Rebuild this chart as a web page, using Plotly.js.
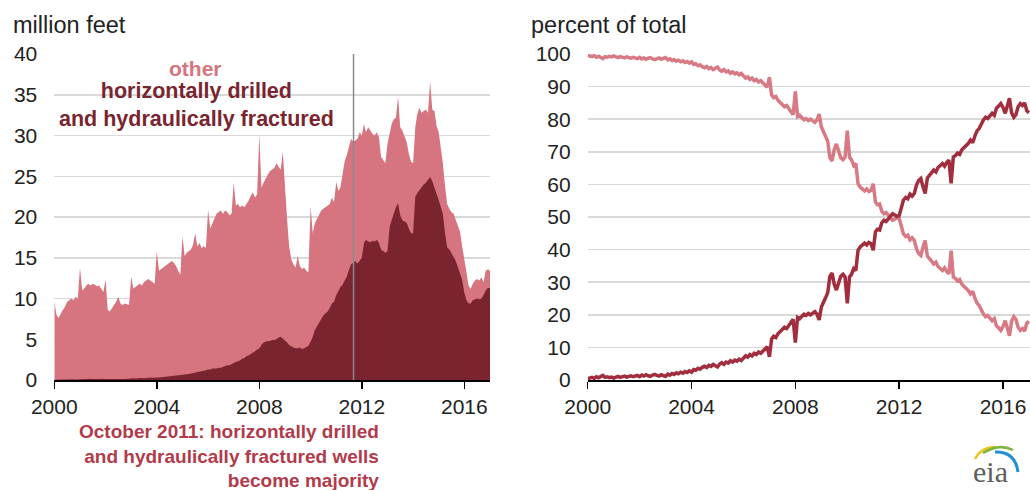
<!DOCTYPE html>
<html>
<head>
<meta charset="utf-8">
<script src="https://cdn.plot.ly/plotly-3.0.1.min.js"></script>
<style>html,body{margin:0;padding:0;background:#fff;}#chart{width:1030px;height:490px;}</style>
</head>
<body>
<div id="chart"></div>
<script>
// Monthly series, January 2000 through January 2017
const startYear = 2000;
const yearTicks = ['2000', '2004', '2008', '2012', '2016'];

// Left panel: total footage drilled (top of pink area), million feet
const totalFeet = [
  9.6, 8.0, 7.6, 8.2, 8.6, 9.0, 9.6, 9.8, 10.0, 9.8, 10.2, 10.0,
  13.8, 11.0, 11.2, 11.6, 11.8, 11.6, 11.8, 11.7, 11.5, 11.6, 11.2, 10.8,
  12.3, 8.6, 8.4, 8.8, 9.2, 9.6, 10.2, 9.4, 9.2, 9.4, 9.3, 9.2,
  12.7, 11.2, 11.4, 11.6, 11.8, 11.6, 12.0, 12.2, 12.4, 12.2, 12.0, 11.8,
  15.8, 13.4, 13.6, 13.8, 14.0, 14.2, 14.4, 14.6, 14.4, 14.0, 13.4, 12.9,
  17.6, 15.2, 15.6, 15.8, 16.0, 16.6, 18.0, 16.4, 16.8, 16.2, 16.4, 16.2,
  20.9, 18.6, 19.2, 20.0, 20.4, 20.6, 20.8, 20.4, 20.8, 20.6, 20.2, 20.4,
  24.2, 21.4, 21.6, 21.2, 21.4, 21.2, 21.6, 22.0, 22.6, 23.0, 22.4, 22.8,
  30.1, 23.6, 24.2, 24.8, 25.2, 25.6, 25.8, 26.0, 26.6, 26.2, 25.8, 28.0,
  23.4, 19.6, 16.4, 14.8, 14.2, 13.8, 15.2, 14.0, 13.6, 13.8, 13.4, 13.2,
  21.3, 18.0, 19.2, 19.8, 20.2, 20.8, 21.0, 21.2, 21.4, 21.6, 22.4, 21.8,
  24.3, 23.2, 23.6, 25.2, 26.8, 27.6, 28.6, 29.6, 29.2, 29.4, 29.6, 30.4,
  30.0, 31.4, 30.4, 31.0, 30.6, 30.2, 30.0, 30.4, 29.8, 27.4, 27.0, 26.6,
  29.0, 30.4, 31.4, 32.0, 32.2, 34.8, 31.0, 30.6, 29.8, 29.2, 27.8, 26.8,
  26.6, 31.0, 32.6, 33.4, 32.8, 33.0, 33.2, 32.8, 36.6, 33.2, 33.0, 31.2,
  30.4, 28.4, 26.6, 23.8, 21.6, 21.0, 20.6, 20.4, 19.6, 18.8, 18.2, 16.4,
  15.0, 13.2, 11.6, 11.2, 11.8, 12.2, 12.4, 12.2, 12.6, 12.0, 13.4, 13.6,
  13.4
];

// Left panel: horizontally drilled and hydraulically fractured footage, million feet
const horizFeet = [
  0.04, 0.05, 0.06, 0.04, 0.09, 0.06, 0.12, 0.14, 0.08, 0.10, 0.07, 0.09,
  0.08, 0.10, 0.12, 0.09, 0.12, 0.14, 0.11, 0.13, 0.15, 0.12, 0.13, 0.15,
  0.12, 0.13, 0.10, 0.14, 0.12, 0.11, 0.15, 0.16, 0.13, 0.11, 0.15, 0.12,
  0.14, 0.20, 0.17, 0.23, 0.20, 0.26, 0.23, 0.29, 0.26, 0.32, 0.28, 0.33,
  0.30, 0.32, 0.35, 0.38, 0.40, 0.42, 0.45, 0.46, 0.50, 0.52, 0.55, 0.55,
  0.60, 0.65, 0.70, 0.75, 0.80, 0.85, 0.95, 0.95, 1.00, 1.05, 1.10, 1.20,
  1.30, 1.30, 1.40, 1.40, 1.40, 1.50, 1.50, 1.60, 1.70, 1.80, 1.80, 1.90,
  2.00, 2.20, 2.30, 2.40, 2.60, 2.70, 2.90, 3.00, 3.20, 3.40, 3.60, 3.70,
  3.90, 4.30, 4.60, 4.70, 4.80, 4.80, 4.90, 4.90, 5.00, 5.20, 5.30, 5.10,
  4.90, 4.60, 4.30, 4.10, 4.00, 3.90, 3.90, 4.00, 3.80, 3.90, 4.10, 4.20,
  4.70, 5.30, 6.10, 6.60, 7.00, 7.60, 7.90, 8.20, 8.40, 8.80, 9.40, 9.60,
  10.4, 10.9, 11.4, 11.7, 12.2, 12.7, 13.5, 14.2, 14.4, 14.6, 14.3, 14.7,
  15.0, 16.8, 17.2, 17.0, 16.9, 17.1, 17.0, 17.2, 16.8, 16.0, 15.8, 15.6,
  15.8, 18.8, 19.6, 20.4, 21.2, 21.7, 20.2, 19.6, 19.4, 19.3, 18.6, 18.0,
  18.0, 22.5, 22.9, 23.3, 23.6, 24.0, 24.2, 24.5, 24.9, 24.4, 23.7, 22.8,
  22.1, 21.2, 20.4, 18.0, 16.3, 16.0, 15.6, 15.1, 14.6, 13.9, 13.0, 12.3,
  10.7, 9.8, 9.4, 9.4, 9.8, 9.9, 10.0, 9.9, 10.0, 10.4, 11.0, 11.3,
  11.3
];

// Right panel: horizontally drilled and hydraulically fractured, percent of total
const horizPct = [
  0.4, 0.6, 0.8, 0.5, 1.0, 0.7, 1.2, 1.4, 0.8, 1.0, 0.7, 0.9,
  0.6, 0.9, 1.1, 0.8, 1.0, 1.2, 0.9, 1.1, 1.3, 1.0, 1.2, 1.4,
  1.0, 1.5, 1.2, 1.6, 1.3, 1.1, 1.5, 1.7, 1.4, 1.2, 1.6, 1.3,
  1.1, 1.8, 1.5, 2.0, 1.7, 2.2, 1.9, 2.4, 2.1, 2.6, 2.3, 2.8,
  2.4, 3.2, 3.0, 3.6, 3.3, 3.9, 4.2, 3.8, 4.5, 4.2, 4.8, 4.4,
  4.0, 4.9, 5.3, 4.8, 5.5, 5.2, 5.9, 5.5, 6.1, 5.8, 6.4, 6.0,
  6.6, 7.4, 7.0, 7.8, 7.4, 8.2, 7.8, 8.6, 8.2, 8.8, 9.4, 10.2,
  7.1, 12.6, 13.4, 13.0, 14.2, 14.8, 15.6, 16.2, 15.8, 16.8, 17.6, 18.6,
  11.5, 19.2, 18.8, 19.6, 20.2, 19.8, 20.4, 20.0, 20.6, 21.0, 20.2, 18.4,
  22.4, 23.6, 25.2, 26.8, 31.8, 32.8, 29.4, 27.6, 30.2, 31.8, 32.4, 31.6,
  23.5, 31.6, 32.4, 34.2, 33.6, 39.8, 40.8, 41.6, 42.0, 41.4, 42.2, 41.8,
  39.8, 45.4, 46.2, 46.0, 48.2, 49.0, 48.6, 49.4, 50.2, 51.0, 50.6, 50.2,
  50.4, 53.0, 55.2, 56.0, 55.6, 57.0, 56.4, 57.2, 59.8, 61.2, 61.8, 59.3,
  57.2, 62.0, 62.8, 63.6, 64.4, 63.8, 65.2, 65.8, 66.4, 65.6, 66.8, 67.4,
  60.3, 68.4, 68.8, 69.6, 69.2, 70.6, 71.2, 71.8, 72.6, 73.6, 72.8, 74.8,
  76.4, 77.2, 78.6, 79.8, 80.6, 80.2, 81.0, 81.8, 81.2, 83.4, 84.0, 84.8,
  83.6, 81.8, 84.0, 86.4, 82.0, 80.6, 81.4, 83.8, 84.8, 84.2, 85.0, 82.6,
  82.0
];

// Right panel: other wells, percent of total
const otherPct = [
  99.6, 99.4, 99.2, 99.5, 99.0, 99.3, 98.8, 98.6, 99.2, 99.0, 99.3, 99.1,
  99.4, 99.1, 98.9, 99.2, 99.0, 98.8, 99.1, 98.9, 98.7, 99.0, 98.8, 98.6,
  99.0, 98.5, 98.8, 98.4, 98.7, 98.9, 98.5, 98.3, 98.6, 98.8, 98.4, 98.7,
  98.9, 98.2, 98.5, 98.0, 98.3, 97.8, 98.1, 97.6, 97.9, 97.4, 97.7, 97.2,
  97.6, 96.8, 97.0, 96.4, 96.7, 96.1, 95.8, 96.2, 95.5, 95.8, 95.2, 95.6,
  96.0, 95.1, 94.7, 95.2, 94.5, 94.8, 94.1, 94.5, 93.9, 94.2, 93.6, 94.0,
  93.4, 92.6, 93.0, 92.2, 92.6, 91.8, 92.2, 91.4, 91.8, 91.2, 90.6, 89.8,
  92.9, 87.4, 86.6, 87.0, 85.8, 85.2, 84.4, 83.8, 84.2, 83.2, 82.4, 81.4,
  88.5, 80.8, 81.2, 80.4, 79.8, 80.2, 79.6, 80.0, 79.4, 79.0, 79.8, 81.6,
  77.6, 76.4, 74.8, 73.2, 68.2, 67.2, 70.6, 72.4, 69.8, 68.2, 67.6, 68.4,
  76.5, 68.4, 67.6, 65.8, 66.4, 60.2, 59.2, 58.4, 58.0, 58.6, 57.8, 58.2,
  60.2, 54.6, 53.8, 54.0, 51.8, 51.0, 51.4, 50.6, 49.8, 49.0, 49.4, 49.8,
  49.6, 47.0, 44.8, 44.0, 44.4, 43.0, 43.6, 42.8, 40.2, 38.8, 38.2, 40.7,
  42.8, 38.0, 37.2, 36.4, 35.6, 36.2, 34.8, 34.2, 33.6, 34.4, 33.2, 32.6,
  39.7, 31.6, 31.2, 30.4, 30.8, 29.4, 28.8, 28.2, 27.4, 26.4, 27.2, 25.2,
  23.6, 22.8, 21.4, 20.2, 19.4, 19.8, 19.0, 18.2, 18.8, 16.6, 16.0, 15.2,
  16.4, 18.2, 16.0, 13.6, 18.0, 19.4, 18.6, 16.2, 15.2, 15.8, 15.0, 17.4,
  18.0
];

const majorityDate = '2011-09-05';

// month labels
const months = [];
for (let i = 0; i < totalFeet.length; i++) {
  const y = startYear + Math.floor(i / 12);
  const m = (i % 12) + 1;
  months.push(y + '-' + (m < 10 ? '0' + m : m) + '-01');
}
const tickDates = yearTicks.map(t => t + '-01-01');

const W = 1030, H = 490;
const px = v => v / W;
const py = v => 1 - v / H;

const PINK = '#d6757f';
const DARK = '#7a2430';
const LINE_DARK = '#a12d3d';
const LINE_PINK = '#d87a85';
const FONT = 'Liberation Sans, Arial, sans-serif';

const traces = [
  {x: months, y: totalFeet, type: 'scatter', mode: 'lines', fill: 'tozeroy',
   fillcolor: PINK, line: {width: 0, color: PINK}, xaxis: 'x', yaxis: 'y'},
  {x: months, y: horizFeet, type: 'scatter', mode: 'lines', fill: 'tozeroy',
   fillcolor: DARK, line: {width: 0, color: DARK}, xaxis: 'x', yaxis: 'y'},
  {x: months, y: otherPct, type: 'scatter', mode: 'lines',
   line: {width: 3.5, color: LINE_PINK}, xaxis: 'x2', yaxis: 'y2'},
  {x: months, y: horizPct, type: 'scatter', mode: 'lines',
   line: {width: 3.5, color: LINE_DARK}, xaxis: 'x2', yaxis: 'y2'}
];

const yDom = [py(380), py(54)];
const xAxisBase = {
  type: 'date', tickvals: tickDates, ticktext: yearTicks,
  ticks: 'outside', ticklen: 7, tickwidth: 1.5, tickcolor: '#000',
  showline: true, linecolor: '#000', linewidth: 1.5,
  showgrid: false, zeroline: false,
  tickfont: {family: FONT, size: 21, color: '#222'}
};
const yAxisBase = {
  showgrid: true, gridcolor: '#d9d9d9', gridwidth: 1.5,
  zeroline: false, showline: false, ticks: '', ticklabelstandoff: 16,
  tickfont: {family: FONT, size: 21, color: '#222'}, domain: yDom
};

const layout = {
  width: W, height: H,
  margin: {l: 0, r: 0, t: 0, b: 0},
  paper_bgcolor: '#fff', plot_bgcolor: 'rgba(0,0,0,0)',
  showlegend: false,
  font: {family: FONT},
  xaxis: Object.assign({}, xAxisBase, {domain: [px(54.3), px(490)], range: ['2000-01-01', '2017-01-01'], anchor: 'y'}),
  yaxis: Object.assign({}, yAxisBase, {range: [0, 40], dtick: 5, anchor: 'x'}),
  xaxis2: Object.assign({}, xAxisBase, {domain: [px(587.7), 1], range: ['2000-01-01', '2017-01-15'], anchor: 'y2'}),
  yaxis2: Object.assign({}, yAxisBase, {range: [0, 100], dtick: 10, anchor: 'x2'}),
  shapes: [
    {type: 'line', xref: 'x', yref: 'y', x0: majorityDate, x1: majorityDate, y0: 0, y1: 40,
     line: {color: '#8a8a8a', width: 1.5}, layer: 'above'},
    {type: 'path', xref: 'paper', yref: 'paper',
     path: `M ${px(975)},${py(459)} Q ${px(981)},${py(447)} ${px(996)},${py(447)}`,
     line: {color: '#f0c419', width: 2.5}},
    {type: 'path', xref: 'paper', yref: 'paper',
     path: `M ${px(983)},${py(453)} Q ${px(999)},${py(443)} ${px(1013)},${py(450)}`,
     line: {color: '#7db544', width: 2.5}},
    {type: 'path', xref: 'paper', yref: 'paper',
     path: `M ${px(995)},${py(452)} Q ${px(1015)},${py(451)} ${px(1018)},${py(472)}`,
     line: {color: '#1f8fd6', width: 3}}
  ],
  annotations: [
    {xref: 'paper', yref: 'paper', x: px(11), y: py(25), xanchor: 'left', yanchor: 'middle',
     text: 'million feet', showarrow: false, font: {family: FONT, size: 23.5, color: '#222'}},
    {xref: 'paper', yref: 'paper', x: px(529), y: py(25), xanchor: 'left', yanchor: 'middle',
     text: 'percent of total', showarrow: false, font: {family: FONT, size: 23.5, color: '#222'}},
    {xref: 'paper', yref: 'paper', x: px(195), y: py(68), xanchor: 'center', yanchor: 'middle',
     text: '<b>other</b>', showarrow: false, font: {family: FONT, size: 21, color: PINK}},
    {xref: 'paper', yref: 'paper', x: px(196), y: py(105), xanchor: 'center', yanchor: 'middle',
     text: '<b>horizontally drilled<br>and hydraulically fractured</b>', showarrow: false,
     font: {family: FONT, size: 21.5, color: DARK}},
    {xref: 'paper', yref: 'paper', x: px(381), y: py(456), xanchor: 'right', yanchor: 'middle', align: 'right',
     text: '<b>October 2011: horizontally drilled<br>and hydraulically fractured wells<br>become majority</b>',
     showarrow: false, font: {family: FONT, size: 19, color: '#b23a4a'}},
    {xref: 'paper', yref: 'paper', x: px(990), y: py(471), xanchor: 'center', yanchor: 'middle',
     text: 'eia', showarrow: false, font: {family: 'Liberation Serif, DejaVu Serif, serif', size: 30, color: '#5e5e5e'}}
  ]
};

Plotly.newPlot('chart', traces, layout, {staticPlot: true, displayModeBar: false});
</script>
</body>
</html>
